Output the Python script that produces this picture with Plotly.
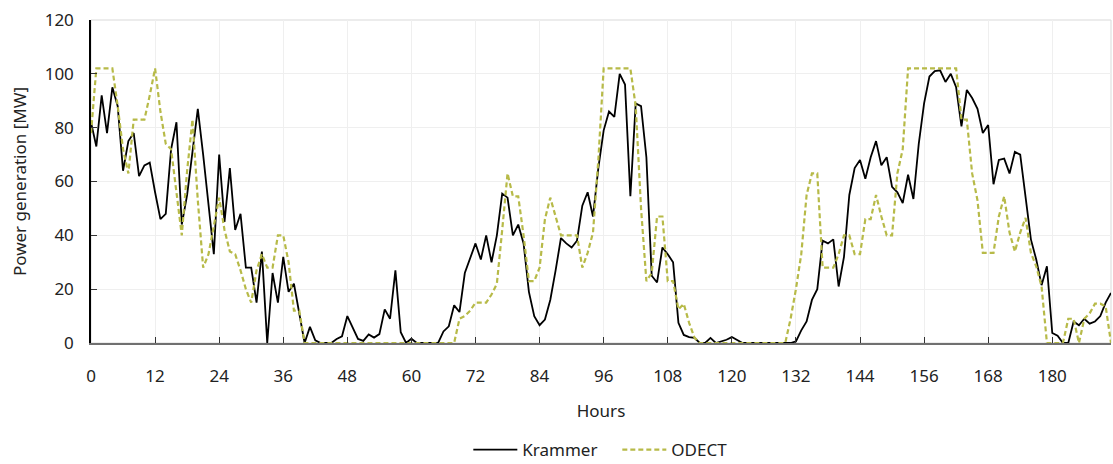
import plotly.graph_objects as go

hours = list(range(192))

krammer = [
    82, 73, 92, 78, 95, 88, 64, 75, 78, 62, 66, 67, 56, 46, 48, 72, 82, 44, 55, 70,
    87, 70, 51, 33, 70, 45, 65, 42, 48, 28, 28, 15, 34, 0, 26, 15, 32, 19, 22, 11,
    0, 6, 1, 0, 0, 0, 1.5, 2.5, 10, 6, 1.5, 0.8, 3.2, 2, 3.3, 12.5, 9, 27, 4, 0,
    1.6, 0, 0, 0, 0, 0, 4.3, 6.2, 14, 11.5, 26, 31.5, 37, 31, 40, 30, 40, 55.5, 54, 40,
    44, 37, 19, 10, 6.6, 8.7, 16, 27, 39, 37, 35.5, 38, 51, 56, 47, 65, 79, 86, 84, 100,
    96, 54.5, 89, 88, 69, 25, 22.5, 35.5, 33, 30, 7.5, 3, 2.2, 1.9, 0, 0, 1.9, 0, 0.5, 1.2,
    2.2, 1, 0, 0, 0, 0, 0, 0, 0, 0, 0, 0, 0.6, 4.7, 8, 16, 20, 38, 37, 38.5,
    21, 32, 55, 65, 68, 61, 69, 75, 66, 69, 58, 56, 52, 62.5, 53.5, 74, 89, 99, 101, 101.3,
    97, 100, 95, 80.5, 94, 91, 87, 78, 81, 59, 68, 68.5, 63, 71, 70, 54.5, 38.5, 31, 21.5, 28.5,
    3.7, 2.7, 0, 0, 8, 6.6, 9, 7.2, 8, 10, 15, 18.6,
]

odect = [
    78, 102, 102, 102, 102, 88, 72, 63, 83, 83, 83, 92, 102, 86, 74, 72, 56, 40, 64, 83,
    53, 28, 33, 43, 54, 42, 34, 33, 27, 20, 15, 27, 33, 28, 28, 40, 40, 30, 12, 12,
    0, 0, 0, 0, 0, 0, 0, 0, 0, 0, 0, 0, 0, 0, 0, 0, 0, 0, 0, 0,
    0, 0, 0, 0, 0, 0, 0, 0, 0, 9, 10, 12, 15, 15, 15, 18, 22, 42, 63, 54.5,
    54.5, 40, 23, 23, 28, 46, 54, 47, 40, 40, 40, 40, 28, 33.5, 41, 68, 102, 102, 102, 102,
    102, 102, 88, 50, 23, 26, 47, 47, 23, 23, 12.5, 14.5, 7.5, 2, 0, 0, 0, 0, 0, 0,
    0, 0, 0, 0, 0, 0, 0, 0, 0, 0, 0, 9, 20, 33, 55, 63, 63, 28, 28, 28,
    33, 40, 40, 33, 33, 46, 46, 55, 47, 40, 40, 63, 72, 102, 102, 102, 102, 102, 102, 102,
    102, 102, 102, 83, 83, 63, 53, 33.5, 33.5, 33.5, 47, 54.5, 41, 34, 41, 46.5, 33.5, 28.5, 21, 0,
    0, 0, 0, 9, 9, 0, 9, 11, 14.6, 14.6, 13.6, 0,
]

x_ticks = list(range(0, 181, 12))
y_ticks = list(range(0, 121, 20))

FONT = "Noto Sans"

fig = go.Figure()
fig.add_trace(go.Scatter(x=hours, y=krammer, mode="lines", name="Krammer",
                         line=dict(color="#000000", width=1.8)))
fig.add_trace(go.Scatter(x=hours, y=odect, mode="lines", name="ODECT",
                         line=dict(color="#b7ba48", width=2.2, dash="5px,3px")))

fig.update_layout(
    width=1113, height=464,
    margin=dict(l=91, r=2, t=20, b=121, autoexpand=False),
    paper_bgcolor="white", plot_bgcolor="white",
    font=dict(family=FONT, size=17, color="#222222"),
    showlegend=True,
    legend=dict(orientation="h", x=0.516, xanchor="center",
                yref="container", y=0.03, yanchor="middle",
                font=dict(family=FONT, size=17, color="#222222"), itemwidth=44,
                entrywidth=90, tracegroupgap=0),
    shapes=[dict(type="rect", xref="paper", yref="paper", x0=0, x1=1, y0=0, y1=1,
                 line=dict(color="#d9d9d9", width=1), layer="below")],
)

fig.update_xaxes(
    range=[0, 191], tickmode="array", tickvals=x_ticks, ticktext=[str(t) for t in x_ticks],
    showgrid=True, gridcolor="#efefef", gridwidth=1,
    showline=True, linecolor="#707070", linewidth=1.5,
    ticks="inside", ticklen=6, tickcolor="#333333", tickwidth=1,
    ticklabelstandoff=17, zeroline=False, automargin=False,
    title=dict(text="Hours", font=dict(family=FONT, size=17), standoff=19),
)
fig.update_yaxes(
    range=[0, 120], tickmode="array", tickvals=y_ticks, ticktext=[str(t) for t in y_ticks],
    showgrid=True, gridcolor="#efefef", gridwidth=1,
    showline=True, linecolor="#000000", linewidth=1.5,
    ticks="inside", ticklen=6, tickcolor="#333333", tickwidth=1,
    ticklabelstandoff=12, zeroline=False, automargin=False,
    title=dict(text="Power generation [MW]", font=dict(family=FONT, size=17), standoff=14),
)

fig.write_html("out.html")
